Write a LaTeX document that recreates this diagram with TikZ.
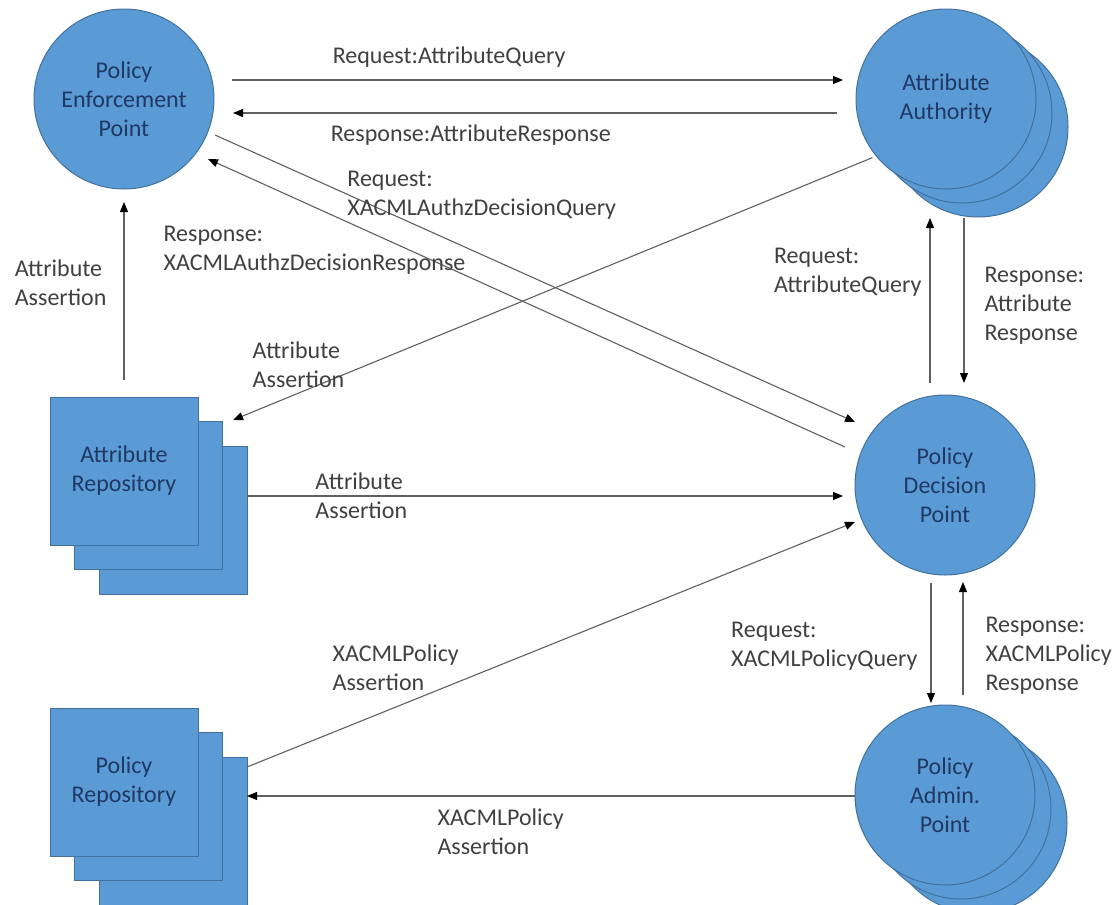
\documentclass[tikz,border=0pt]{standalone}
\usepackage{fontspec}
\setmainfont{Carlito}
\usepackage{tikz}
\usetikzlibrary{arrows.meta,shadows}
\definecolor{nodefill}{HTML}{5B9BD5}
\definecolor{nodeline}{HTML}{41719C}
\definecolor{nodetext}{HTML}{1F3864}
\definecolor{lbltext}{HTML}{404040}
\definecolor{linegray}{HTML}{606060}

\begin{document}
\begin{tikzpicture}[x=1pt,y=-1pt,->,>={Triangle[length=10pt,width=8pt,color=black]},
font=\fontsize{24}{29}\selectfont,
every edge/.style={draw=linegray,line width=1.1pt},
point/.style={circle,draw=nodeline,fill=nodefill,line width=1pt,minimum size=180pt,inner sep=0pt,outer sep=0pt,align=center,text=nodetext},
store/.style={rectangle,draw=nodeline,fill=nodefill,line width=1pt,minimum size=148pt,inner sep=0pt,outer sep=0pt,align=center,text=nodetext},
back/.style 2 args={copy shadow={shadow xshift=#1,shadow yshift=-#2,opacity=1,fill=nodefill,draw=nodeline}},
lbl/.style={anchor=west,align=left,inner sep=0pt,text=lbltext}]
\useasboundingbox (0,0) rectangle (1114,905);

\node[point] (pep) at (124,99) {Policy\\Enforcement\\Point};
\node[point,back={32pt}{28pt},back={16pt}{14pt}] (aa) at (946,99) {Attribute\\Authority};
\node[store,back={49pt}{49pt},back={24.5pt}{24.5pt}] (ar) at (124,471) {Attribute\\Repository};
\node[point] (pdp) at (945,485) {Policy\\Decision\\Point};
\node[store,back={49pt}{49pt},back={24.5pt}{24.5pt}] (pr) at (124,782) {Policy\\Repository};
\node[point,back={32pt}{28pt},back={16pt}{14pt}] (pap) at (945,795) {Policy\\Admin.\\Point};

\path[->] ([xshift=18pt,yshift=19pt]pep.east) edge node[lbl,pos=.164,yshift=23pt] {Request:AttributeQuery} ([xshift=-13pt,yshift=19pt]aa.west)
([xshift=-19pt,yshift=-14pt]aa.west) edge node[lbl,pos=.839,yshift=-22pt] {Response:AttributeResponse} ([xshift=19pt,yshift=-14pt]pep.east)
([xshift=1pt,yshift=-36pt]pep.east) edge node[lbl,pos=.206,yshift=-1pt] {Request:\\XACMLAuthzDecisionQuery} ([yshift=63pt]pdp.west)
([xshift=-10pt,yshift=38pt]pdp.west) edge node[lbl,anchor=east,pos=.595,yshift=25pt] {Response:\\XACMLAuthzDecisionResponse} ([xshift=-6pt,yshift=-60pt]pep.east)
([xshift=-10pt,yshift=5pt]aa.south west) edge node[lbl,pos=.97,yshift=47pt] {Attribute\\Assertion} ([xshift=35pt,yshift=-23pt]ar.north east)
([yshift=17pt]ar.north) edge node[lbl,pos=.545,left=17pt] {Attribute\\Assertion} ([yshift=-13pt]pep.south)
([xshift=49pt,yshift=-25pt]ar.east) edge node[lbl,pos=.114] {Attribute\\Assertion} ([xshift=-12pt,yshift=-11pt]pdp.west)
([xshift=49pt,yshift=15pt]pr.east) edge node[lbl,pos=.14,yshift=65pt] {XACMLPolicy\\Assertion} ([yshift=-37pt]pdp.west)
([yshift=-1pt]pap.west) edge node[lbl,pos=.6875,yshift=-36pt] {XACMLPolicy\\Assertion} ([xshift=49pt,yshift=-14pt]pr.east)
([xshift=-15pt,yshift=12pt]pdp.north) edge node[lbl,pos=.673,left=8pt] {Request:\\AttributeQuery} ([xshift=-16pt,yshift=-29pt]aa.south)
([xshift=18pt,yshift=-29pt]aa.south) edge node[lbl,pos=.533,right=20pt] {Response:\\Attribute\\Response} ([xshift=19pt,yshift=12pt]pdp.north)
([xshift=-14pt,yshift=-8pt]pdp.south) edge node[lbl,pos=.525,left=13pt] {Request:\\XACMLPolicyQuery} ([xshift=-14pt,yshift=2pt]pap.north)
([xshift=18pt,yshift=10pt]pap.north) edge node[lbl,pos=.345,right=22pt] {Response:\\XACMLPolicy\\Response} ([xshift=18pt,yshift=-7pt]pdp.south);
\end{tikzpicture}
\end{document}
